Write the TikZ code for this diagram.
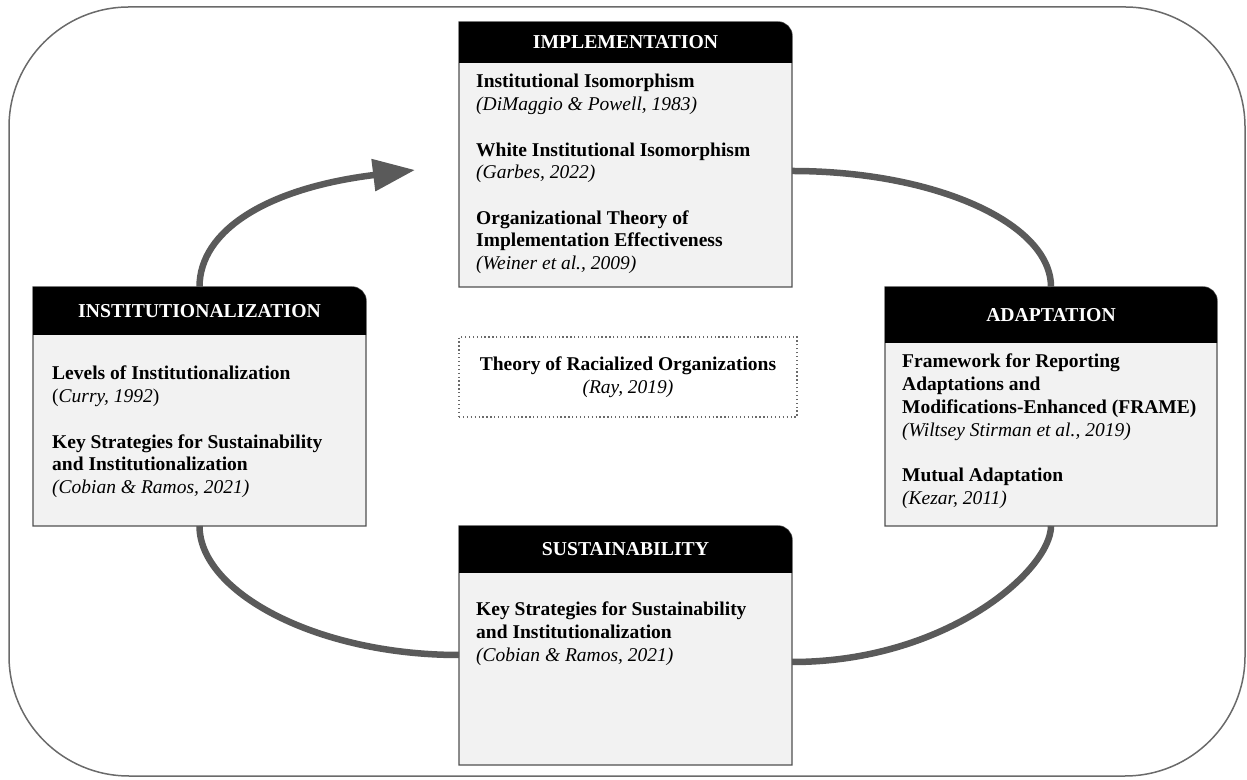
\documentclass[tikz,border=0pt]{standalone}
\usepackage{fontspec}
\setmainfont{Liberation Serif}
\usetikzlibrary{arrows.meta}

\definecolor{linkgray}{HTML}{5A5A5A}
\definecolor{framegray}{HTML}{6A6A6A}
\definecolor{panelfill}{HTML}{F2F2F2}
\definecolor{panelrule}{HTML}{505050}

\tikzset{
  panelbox/.style={rectangle, inner sep=0pt, outer sep=0pt, draw=none},
  panelrule/.style={draw=panelrule, line width=1.4pt, fill=panelfill},
  paneltitle/.style={text=white, font=\fontsize{19.7}{22}\selectfont\bfseries, inner sep=0pt},
  entry/.style={anchor=base west, inner sep=0pt, font=\fontsize{19.5}{22.7}\selectfont},
  link/.style={draw=linkgray, line width=6.5pt},
  outerframe/.style={draw=framegray, line width=1.5pt, rounded corners=120pt},
  note/.style={draw=framegray, line width=1.3pt, dash pattern=on 1.3pt off 2.6pt,
    inner sep=0pt, align=center, font=\fontsize{19.5}{22.7}\selectfont},
}

% panel: name, left x, top y, width, height, title bar height, title
\newcommand\panel[7]{%
  \node[panelbox, minimum width=#4pt, minimum height=#5pt, anchor=north west] (#1) at (#2,#3) {};
  \path[panelrule] (#1.south west) -- (#1.north west) -- ([xshift=-14pt]#1.north east)
    arc[start angle=90, end angle=0, radius=14pt] -- (#1.south east) -- cycle;
  \fill[black] ([yshift=-#6pt]#1.north west) -- (#1.north west) -- ([xshift=-14pt]#1.north east)
    arc[start angle=90, end angle=0, radius=14pt] -- ([yshift=-#6pt]#1.north east) -- cycle;
  \node[paneltitle] (#1-title) at ([yshift=-#6pt/2]#1.north) {#7};
}

\begin{document}
\begin{tikzpicture}[x=1pt, y=1pt]
\useasboundingbox (0,0) rectangle (1247,779);

% outer frame
\draw[outerframe] (9,3) rectangle (1245,772);

% the four stages
\panel{impl}{459}{757}{333}{265}{41}{IMPLEMENTATION}
\panel{inst}{33}{492}{333}{239}{48}{INSTITUTIONALIZATION}
\panel{adapt}{885}{492}{332}{239}{56}{ADAPTATION}
\panel{sust}{459}{253}{333}{239}{47}{SUSTAINABILITY}

% implementation
\node[entry] (impl-1) at (476,691)   {\textbf{Institutional Isomorphism}};
\node[entry] (impl-2) at (476,668.3) {\textit{(DiMaggio \& Powell, 1983)}};
\node[entry] (impl-3) at (476,622.9) {\textbf{White Institutional Isomorphism}};
\node[entry] (impl-4) at (476,600.2) {\textit{(Garbes, 2022)}};
\node[entry] (impl-5) at (476,554.8) {\textbf{Organizational Theory of}};
\node[entry] (impl-6) at (476,532.1) {\textbf{Implementation Effectiveness}};
\node[entry] (impl-7) at (476,509.4) {\textit{(Weiner et al., 2009)}};

% institutionalization
\node[entry] (inst-1) at (52,399)   {\textbf{Levels of Institutionalization}};
\node[entry] (inst-2) at (52,376.3) {(\textit{Curry, 1992})};
\node[entry] (inst-3) at (52,330.9) {\textbf{Key Strategies for Sustainability}};
\node[entry] (inst-4) at (52,308.2) {\textbf{and Institutionalization}};
\node[entry] (inst-5) at (52,285.5) {\textit{(Cobian \& Ramos, 2021)}};

% adaptation
\node[entry] (adapt-1) at (902,411)   {\textbf{Framework for Reporting}};
\node[entry] (adapt-2) at (902,388.3) {\textbf{Adaptations and}};
\node[entry] (adapt-3) at (902,365.6) {\textbf{Modifications-Enhanced (FRAME)}};
\node[entry] (adapt-4) at (902,342.9) {\textit{(Wiltsey Stirman et al., 2019)}};
\node[entry] (adapt-5) at (902,297.5) {\textbf{Mutual Adaptation}};
\node[entry] (adapt-6) at (902,274.8) {\textit{(Kezar, 2011)}};

% sustainability
\node[entry] (sust-1) at (476,163)   {\textbf{Key Strategies for Sustainability}};
\node[entry] (sust-2) at (476,140.3) {\textbf{and Institutionalization}};
\node[entry] (sust-3) at (476,117.6) {\textit{(Cobian \& Ramos, 2021)}};

% central theory
\node[note, minimum width=338pt, minimum height=80pt] (ray) at (628,402)
  {\textbf{Theory of Racialized Organizations}\\\textit{(Ray, 2019)}};

% cycle connectors
\coordinate (cycle-tip) at (415,609);
\draw[link, -{Triangle[length=42pt, width=31pt]}] (inst.north)
  .. controls (199.5,549) and (268,591) .. (cycle-tip);
\draw[link] ([yshift=-16.5pt]impl.east)
  .. controls (935,608) and (1051,556) .. (adapt.north);
\draw[link] (adapt.south)
  .. controls (1051,209) and (947,117) .. ([yshift=-16.5pt]sust.east);
\draw[link] (inst.south)
  .. controls (199.5,187) and (316,124) .. ([yshift=-9.5pt]sust.west);
\end{tikzpicture}
\end{document}
